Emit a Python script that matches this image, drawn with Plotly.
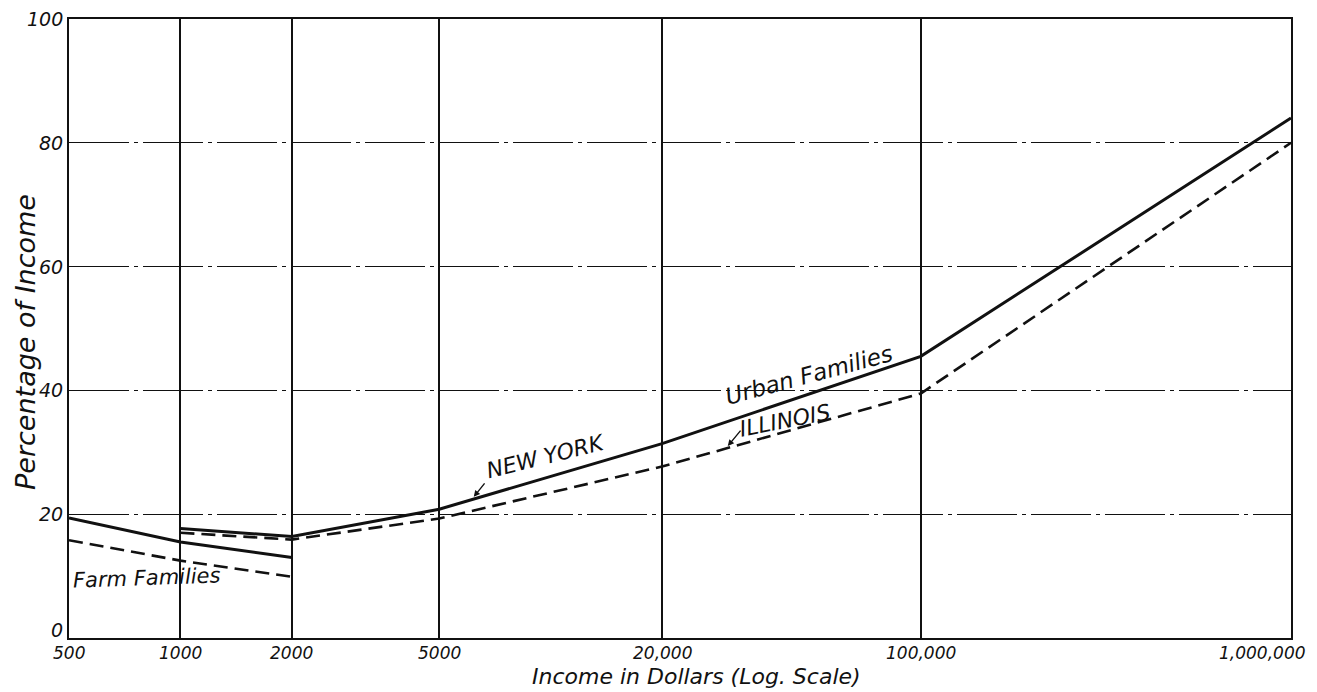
import numpy as np
import plotly.graph_objects as go

# ---------------- data ----------------
farm_income = [500, 1000, 2000]
farm_new_york = [19.4, 15.5, 13.0]
farm_illinois = [15.8, 12.5, 9.9]

urban_income = [1000, 2000, 5000, 20000, 100000, 1000000]
urban_new_york = [17.7, 16.4, 20.8, 31.4, 45.5, 84.0]
urban_illinois = [17.0, 15.9, 19.3, 27.7, 39.5, 80.0]

x_tick_vals = [500, 1000, 2000, 5000, 20000, 100000, 1000000]
x_tick_text = ["500", "1000", "2000", "5000", "20,000", "100,000", "1,000,000"]
y_tick_vals = [0, 20, 40, 60, 80, 100]
y_tick_text = ["0", "20", "40", "60", "80", "100"]

FONT = "DejaVu Sans"
INK = "#111111"

fig = go.Figure()

solid = dict(color=INK, width=3)
dashed = dict(color=INK, width=2.6, dash="14px,7px")

fig.add_trace(go.Scatter(x=farm_income, y=farm_new_york, mode="lines",
                         line=solid, name="New York – Farm Families"))
fig.add_trace(go.Scatter(x=farm_income, y=farm_illinois, mode="lines",
                         line=dashed, name="Illinois – Farm Families"))
fig.add_trace(go.Scatter(x=urban_income, y=urban_new_york, mode="lines",
                         line=solid, name="New York – Urban Families"))
fig.add_trace(go.Scatter(x=urban_income, y=urban_illinois, mode="lines",
                         line=dashed, name="Illinois – Urban Families"))

it = dict(family=FONT, color=INK, style="italic")

annotations = []
# x tick labels (placed at the axis tick positions)
for i, (v, t) in enumerate(zip(x_tick_vals, x_tick_text)):
    last = i == len(x_tick_vals) - 1
    annotations.append(dict(
        x=np.log10(v), y=0, xref="x", yref="y", text=t, showarrow=False,
        xanchor="right" if last else "center", yanchor="top",
        xshift=17 if last else 0, yshift=-3,
        font=dict(size=17, **it)))

# y tick labels (placed at the axis tick positions)
for v, t in zip(y_tick_vals, y_tick_text):
    annotations.append(dict(
        x=0, y=v, xref="paper", yref="y", text=t, showarrow=False,
        xanchor="right", yanchor="middle", xshift=-4,
        yshift=8 if v == 0 else 0,
        font=dict(size=19, **it)))

# axis titles
annotations.append(dict(x=0.5, y=0, xref="paper", yref="paper",
                        text="Income in Dollars (Log. Scale)", showarrow=False,
                        xanchor="center", yanchor="middle", xshift=16, yshift=-38,
                        font=dict(size=22, **it)))
annotations.append(dict(x=0, y=0.5, xref="paper", yref="paper",
                        text="Percentage of Income", showarrow=False,
                        textangle=-90, xanchor="right", yanchor="middle",
                        xshift=-26, yshift=-14,
                        font=dict(size=27, **it)))

# in-chart labels
annotations += [
    dict(x=np.log10(49800), y=42.5, text="Urban Families", showarrow=False,
         textangle=-15, font=dict(size=23, **it)),
    dict(x=np.log10(9700), y=29.4, text="NEW YORK", showarrow=False,
         textangle=-14, font=dict(size=22, **it)),
    dict(x=np.log10(43000), y=35.2, text="ILLINOIS", showarrow=False,
         textangle=-11, font=dict(size=22, **it)),
    dict(x=np.log10(812), y=9.7, text="Farm Families", showarrow=False,
         textangle=-2, font=dict(size=21, **it)),
    # arrows
    dict(x=np.log10(6200), y=22.8, text="", showarrow=True, ax=12, ay=-15,
         arrowhead=2, arrowsize=0.9, arrowwidth=1.4, arrowcolor=INK),
    dict(x=np.log10(30100), y=31.0, text="", showarrow=True, ax=14, ay=-17,
         arrowhead=2, arrowsize=0.9, arrowwidth=1.4, arrowcolor=INK),
]

fig.update_layout(
    width=1309, height=684,
    margin=dict(l=61, r=26, t=9, b=54),
    paper_bgcolor="white", plot_bgcolor="white",
    showlegend=False,
    annotations=annotations,
    font=dict(family=FONT, color=INK),
)

fig.update_xaxes(
    type="log", range=[np.log10(500), 6],
    tickvals=x_tick_vals, showticklabels=False, ticks="",
    showgrid=True, gridcolor=INK, gridwidth=1.6,
    showline=True, linecolor=INK, linewidth=2.2, mirror=True,
    zeroline=False, fixedrange=True,
)
fig.update_yaxes(
    range=[0, 100], tickvals=y_tick_vals, showticklabels=False, ticks="",
    showgrid=True, gridcolor=INK, gridwidth=1.1, griddash="60px,5px,4px,5px",
    showline=True, linecolor=INK, linewidth=2.2, mirror=True,
    zeroline=False, fixedrange=True,
)

fig.write_html("out.html")
